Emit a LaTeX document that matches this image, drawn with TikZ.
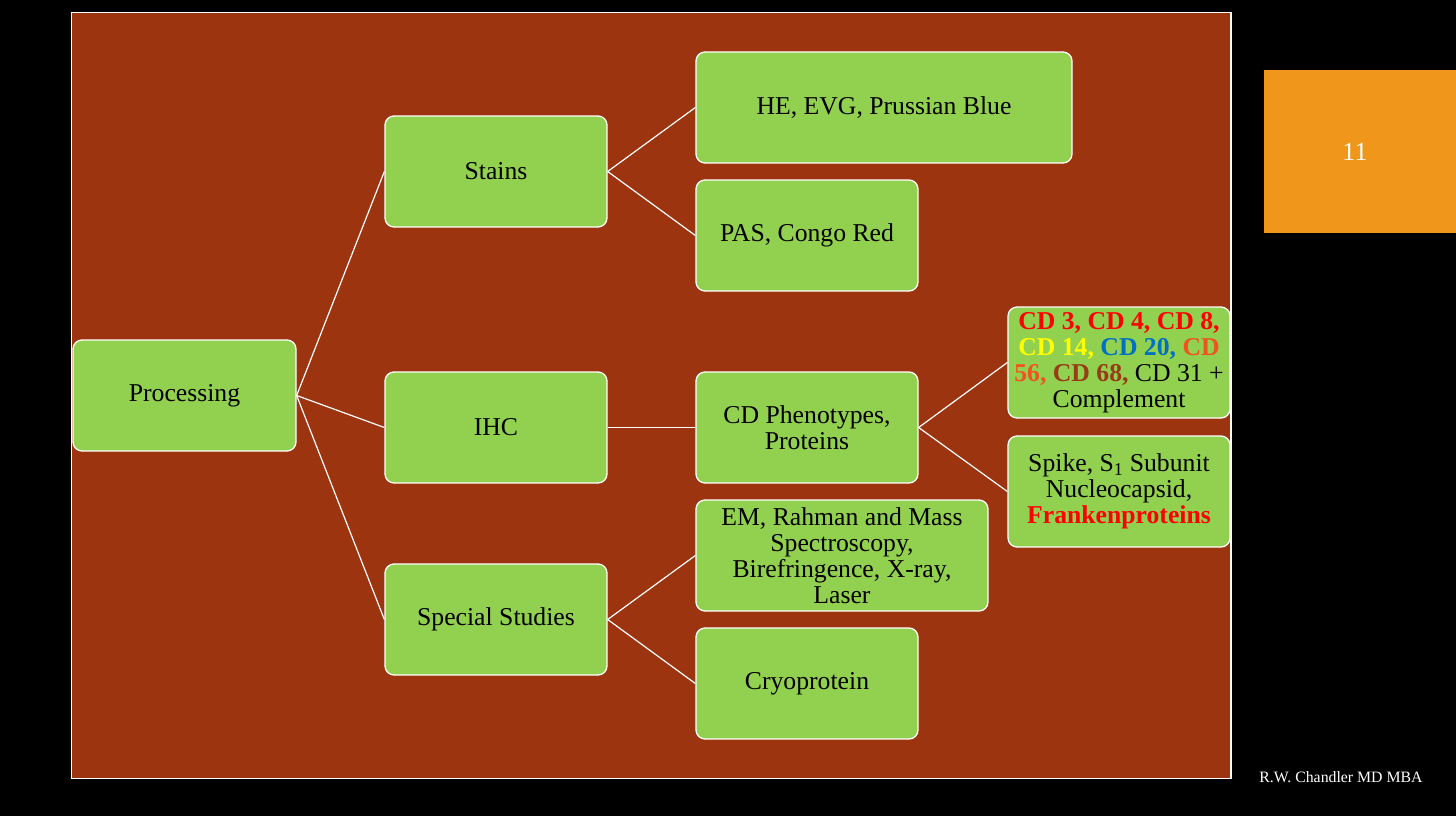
\documentclass[tikz,border=0pt]{standalone}
\usepackage{fontspec}
\setmainfont{Liberation Serif}
\usetikzlibrary{calc}
\definecolor{slidebrown}{RGB}{155,52,15}
\definecolor{boxgreen}{RGB}{146,208,80}
\definecolor{numorange}{RGB}{240,150,26}
\definecolor{cdred}{RGB}{255,0,0}
\definecolor{cdyellow}{RGB}{255,255,0}
\definecolor{cdblue}{RGB}{0,112,192}
\definecolor{cdorange}{RGB}{242,82,30}
\definecolor{cdbrown}{RGB}{150,60,22}

\begin{document}
\begin{tikzpicture}[x=1pt,y=-1pt,
		greenbox/.style={draw=white, line width=1.3pt, fill=boxgreen, rounded corners=9pt,
			minimum height=111pt, align=center, inner sep=4pt,
			font=\fontsize{25.7}{26}\selectfont},
		link/.style={draw=white, line width=1.2pt}]
			%%%%% START %%%%%
			
			\fill[black] (0, 0) rectangle (1456, 816);
			\useasboundingbox (0, 0) rectangle (1456, 816);
			\draw[fill=slidebrown, draw=white, line width=1.8pt] (71.5, 12.5) rectangle (1231, 778.5);
			
			\fill[numorange] (1264, 70) rectangle (1456, 233);
			\node[text=white, font=\fontsize{26}{26}\selectfont] (num) at (1355, 152) {11};
			\node[text=white, font=\fontsize{15.8}{16}\selectfont] (author) at (1341, 777) {R.W. Chandler MD MBA};
			
			\node[greenbox, minimum width=223pt] (proc) at (184.5, 395.5) {Processing};
			
			\node[greenbox, minimum width=222pt] (stains) at (496, 171.5) {Stains};
			\node[greenbox, minimum width=222pt] (ihc) at (496, 427.5) {IHC};
			\node[greenbox, minimum width=222pt] (special) at (496, 619.5) {Special Studies};
			
			\node[greenbox, minimum width=376pt] (he) at (884, 107.5) {HE, EVG, Prussian Blue};
			\node[greenbox, minimum width=222pt] (pas) at (807, 235.5) {PAS, Congo Red};
			\node[greenbox, minimum width=222pt] (cdpheno) at (807, 427.5) {CD Phenotypes,\\Proteins};
			\node[greenbox, minimum width=292pt] (em) at (842, 555.5) {EM, Rahman and Mass\\Spectroscopy,\\Birefringence, X-ray,\\Laser};
			\node[greenbox, minimum width=222pt] (cryo) at (807, 683.5) {Cryoprotein};
			
			\node[greenbox, minimum width=222pt] (cdlist) at (1119, 362.5) {\textbf{\color{cdred}CD 3, CD 4, CD 8,}\\
				\textbf{\color{cdyellow}CD 14,} \textbf{\color{cdblue}CD 20,} \textbf{\color{cdorange}CD}\\
				\textbf{\color{cdorange}56,} \textbf{\color{cdbrown}CD 68,} CD 31 +\\Complement};
			\node[greenbox, minimum width=222pt] (spike) at (1119, 491.5) {Spike, S\textsubscript{1} Subunit\\Nucleocapsid,\\\textbf{\color{cdred}Frankenproteins}};
			
			\draw[link] (proc.east) -- (stains.west);
			\draw[link] (proc.east) -- (ihc.west);
			\draw[link] (proc.east) -- (special.west);
			\draw[link] (stains.east) -- (he.west);
			\draw[link] (stains.east) -- (pas.west);
			\draw[link] (ihc.east) -- (cdpheno.west);
			\draw[link] (special.east) -- (em.west);
			\draw[link] (special.east) -- (cryo.west);
			\draw[link] (cdpheno.east) -- (cdlist.west);
			\draw[link] (cdpheno.east) -- (spike.west);
			
			%%%%% END %%%%%
		\end{tikzpicture}
\end{document}
